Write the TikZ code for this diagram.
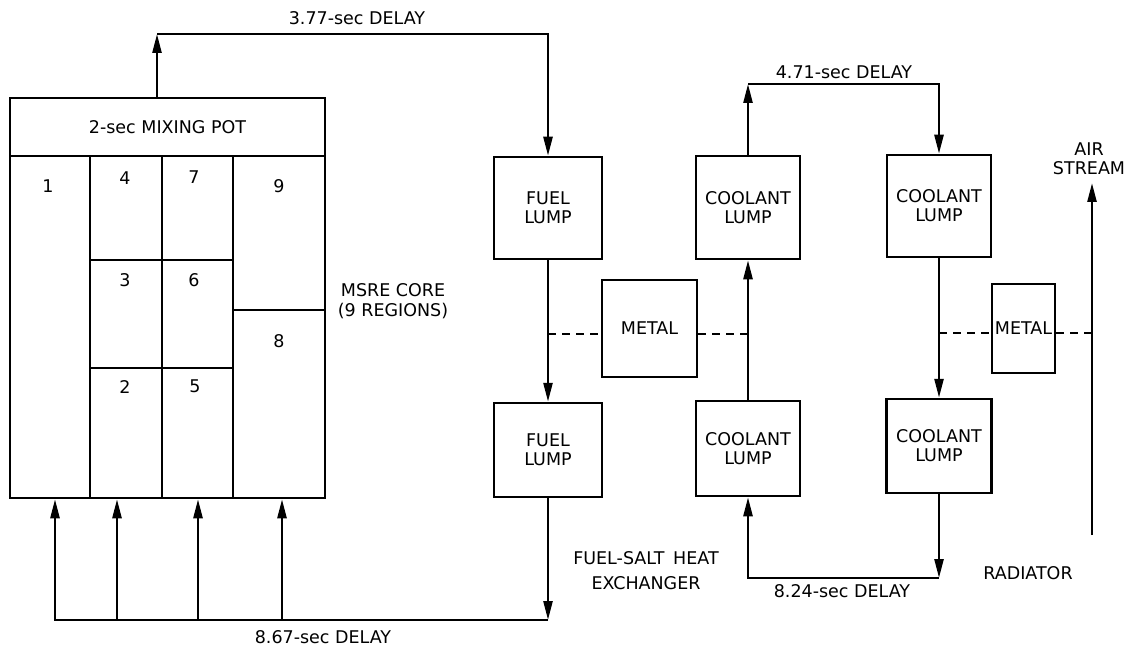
\documentclass[tikz,border=0pt]{standalone}
\usepackage{fontspec}
\setmainfont{DejaVu Sans}
\usetikzlibrary{arrows.meta}
\begin{document}
\begin{tikzpicture}[x=1pt,y=-1pt,
  lbl/.style={font=\fontsize{17.5}{19}\selectfont, inner sep=0pt, align=center},
  box/.style={draw, line width=2.5pt, font=\fontsize{17.5}{19}\selectfont, align=center, inner sep=0pt},
  flow/.style={line width=2.5pt, line join=miter, -{Triangle[length=19pt,width=9pt]}},
  div/.style={line width=1.8pt},
  tie/.style={line width=1.6pt, dash pattern=on 8pt off 6pt}]
\useasboundingbox (0,0) rectangle (1129,647);

% core
\node[box, minimum width=315pt, minimum height=400pt] (core) at (167.5,298) {};
\node[box, minimum width=315pt, minimum height=58pt] (pot) at (167.5,127) {2-sec MIXING POT};
\draw[div] (90,156) -- (90,498);
\draw[div] (162,156) -- (162,498);
\draw[div] (233,156) -- (233,498);
\draw[div] (90,260) -- (233,260);
\draw[div] (90,368) -- (233,368);
\draw[div] (233,310) -- (325,310);
\node[lbl] (r1) at (48,186) {1};
\node[lbl] (r4) at (125,178) {4};
\node[lbl] (r7) at (194,177) {7};
\node[lbl] (r9) at (279,186) {9};
\node[lbl] (r3) at (125,280) {3};
\node[lbl] (r6) at (194,280) {6};
\node[lbl] (r8) at (279,341) {8};
\node[lbl] (r2) at (125,387) {2};
\node[lbl] (r5) at (195,386) {5};
\node[lbl] (msre) at (393,301) {MSRE CORE\\[1pt](9 REGIONS)};

% fuel side
\node[box, minimum width=108pt, minimum height=102pt] (fuel1) at (548,208) {FUEL\\LUMP};
\node[box, minimum width=108pt, minimum height=94pt] (fuel2) at (548,450) {FUEL\\LUMP};
\node[box, minimum width=95pt, minimum height=97pt] (metal1) at (649.5,328.5) {\raisebox{-4pt}{METAL}};

% coolant side
\node[box, minimum width=104pt, minimum height=103pt] (cool1) at (748,207.5) {COOLANT\\LUMP};
\node[box, minimum width=104pt, minimum height=95pt] (cool3) at (748,448.5) {COOLANT\\LUMP};
\node[box, minimum width=104pt, minimum height=102pt] (cool2) at (939,206) {COOLANT\\LUMP};
\node[box, minimum width=105pt, minimum height=94pt] (cool4) at (939,446) {COOLANT\\LUMP};
\node[box, minimum width=63pt, minimum height=89pt] (metal2) at (1023.5,328.5) {\raisebox{-4pt}{METAL}};

% coordinates
\coordinate (t1) at (157,34);
\coordinate (t2) at (548,34);
\coordinate (b0) at (548,620);
\coordinate (b1) at (55,620);
\coordinate (b2) at (117,620);
\coordinate (b3) at (198,620);
\coordinate (b4) at (282,620);
\coordinate (c1) at (748,84);
\coordinate (c2) at (939,84);
\coordinate (c3) at (939,578);
\coordinate (c4) at (748,578);
\coordinate (air0) at (1092,535);
\coordinate (air1) at (1092,183);
\coordinate (tieA) at (548,334);
\coordinate (tieB) at (748,334);
\coordinate (tieC) at (939,333);
\coordinate (tieD) at (1092,333);

% fuel loop
\draw[flow] (pot.north -| t1) -- (t1);
\draw[flow] (t1) -- (t2) -- (fuel1.north);
\draw[flow] (fuel1.south) -- (fuel2.north);
\draw[flow] (fuel2.south) -- (b0);
\draw[flow] (b0) -- (b1) -- (b1 |- core.south);
\draw[flow] (b2) -- (b2 |- core.south);
\draw[flow] (b3) -- (b3 |- core.south);
\draw[flow] (b4) -- (b4 |- core.south);

% coolant loop
\draw[flow] (cool3.north) -- (cool1.south);
\draw[flow] (cool1.north) -- (c1);
\draw[flow] (c1) -- (c2) -- (cool2.north);
\draw[flow] (cool2.south) -- (cool4.north);
\draw[flow] (cool4.south) -- (c3);
\draw[flow] (c3) -- (c4) -- (cool3.south);

% air
\draw[flow] (air0) -- (air1);

% heat ties
\draw[tie] (tieA) -- (metal1.west |- tieA);
\draw[tie] (metal1.east |- tieB) -- (tieB);
\draw[tie] (tieC) -- (metal2.west |- tieC);
\draw[tie] (metal2.east |- tieD) -- (tieD);

% labels
\node[lbl] (d1) at (357,18) {3.77-sec DELAY};
\node[lbl] (d2) at (844,72) {4.71-sec DELAY};
\node[lbl] (d3) at (842,591) {8.24-sec DELAY};
\node[lbl] (d4) at (323,637) {8.67-sec DELAY};
\node[lbl] (hx) at (646,571) {FUEL-SALT\hspace{0.5em}HEAT\\[6pt]EXCHANGER};
\node[lbl] (rad) at (1028,573) {RADIATOR};
\node[lbl] (airlbl) at (1089,159) {AIR\\STREAM};
\end{tikzpicture}
\end{document}
